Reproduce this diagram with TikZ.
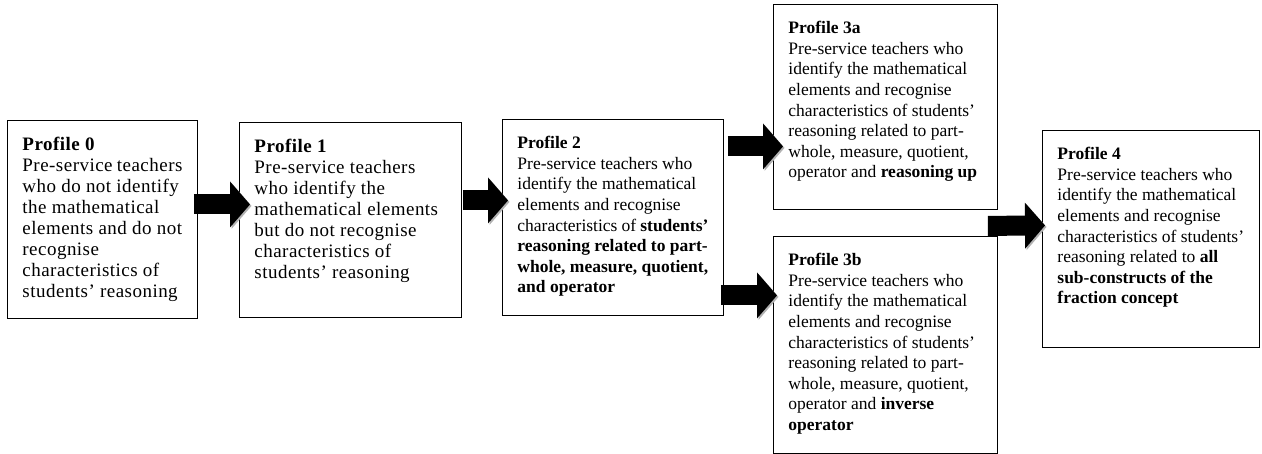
\documentclass[tikz,border=0pt]{standalone}
\usepackage{fontspec}
\setmainfont{Liberation Serif}
\usetikzlibrary{arrows.meta}
\newcommand{\ptext}[3]{\parbox[t][#2][t]{#1}{\raggedright #3}}

\begin{document}
\begin{tikzpicture}[x=1pt,y=-1pt,
  profile/.style={draw, line width=0.9pt, anchor=north west, inner xsep=15pt, inner ysep=17pt, font=\fontsize{17.5}{20.6}\selectfont},
  wide/.style={font=\fontsize{19}{21}\selectfont\addfontfeature{LetterSpace=2.5}},
  fat/.style={draw, line width=20pt, -{Triangle[length=20pt,width=46pt,line width=0pt]}, preaction={draw=black!30, transform canvas={shift={(1.5pt,-1.5pt)}}}}]
\useasboundingbox (0,0) rectangle (1262,454);

\node[profile, wide] (p0) at (7,120) {\ptext{160pt}{164pt}{\textbf{Profile 0}\\
Pre-service teachers\\ who do not identify\\ the mathematical\\ elements and do not\\ recognise\\ characteristics of\\ students' reasoning}};
\node[profile, wide] (p1) at (239,122) {\ptext{192pt}{161pt}{\textbf{Profile 1}\\
Pre-service teachers\\ who identify the\\ mathematical elements\\ but do not recognise\\ characteristics of\\ students' reasoning}};
\node[profile] (p2) at (502,119) {\ptext{191pt}{162pt}{\textbf{Profile 2}\\
Pre-service teachers who\\ identify the mathematical\\ elements and recognise\\ characteristics of \textbf{students'}\\ \textbf{reasoning related to part-}\\ \textbf{whole, measure, quotient,}\\ \textbf{and operator}}};
\node[profile] (p3a) at (773,4) {\ptext{194pt}{171pt}{\textbf{Profile 3a}\\
Pre-service teachers who\\ identify the mathematical\\ elements and recognise\\ characteristics of students'\\ reasoning related to part-\\ whole, measure, quotient,\\ operator and \textbf{reasoning up}}};
\node[profile] (p3b) at (773,236) {\ptext{194pt}{183pt}{\textbf{Profile 3b}\\
Pre-service teachers who\\ identify the mathematical\\ elements and recognise\\ characteristics of students'\\ reasoning related to part-\\ whole, measure, quotient,\\ operator and \textbf{inverse}\\ \textbf{operator}}};
\node[profile] (p4) at (1042,130) {\ptext{187pt}{183pt}{\textbf{Profile 4}\\
Pre-service teachers who\\ identify the mathematical\\ elements and recognise\\ characteristics of students'\\ reasoning related to \textbf{all}\\ \textbf{sub-constructs of the}\\ \textbf{fraction concept}}};

\draw ([shift={(-4,-15)}]p0.east) edge[fat] ([shift={(11,-15.5)}]p1.west);
\draw ([shift={(1,-19.5)}]p1.east) edge[fat] ([shift={(6,-17)}]p2.west);
\draw ([shift={(4,-71)}]p2.east) edge[fat] ([shift={(10,39.5)}]p3a.west);
\draw ([shift={(-3,78)}]p2.east) edge[fat] ([shift={(4,-49.5)}]p3b.west);
\draw ([shift={(-10,16)}]p3a.south east) edge[fat] ([shift={(3,-13.5)}]p4.west);
\end{tikzpicture}
\end{document}
